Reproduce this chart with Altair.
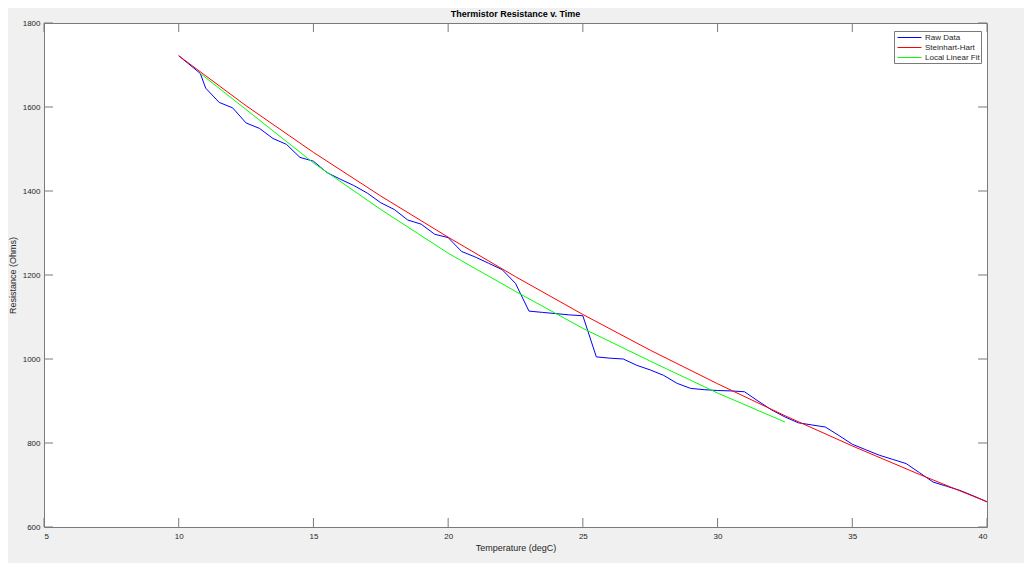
import altair as alt
import pandas as pd

# ---- data ----
raw_t = [10, 10.8, 11, 11.5, 12, 12.5, 13, 13.5, 14, 14.5, 15, 15.5, 16, 16.5, 17, 17.5,
         18, 18.5, 19, 19.5, 20, 20.5, 21, 21.5, 22, 22.5, 23, 23.5, 24, 24.5, 25, 25.5,
         26, 26.5, 27, 27.5, 28, 28.5, 29, 29.5, 30, 30.5, 31, 31.5, 32, 32.5, 33, 33.5,
         34, 34.5, 35, 35.5, 36, 36.5, 37, 37.5, 38, 38.5, 39, 39.5, 40]
raw_r = [1722, 1680, 1645, 1611, 1598, 1562, 1549, 1525, 1511, 1480, 1471, 1444, 1428, 1413, 1395, 1372,
         1356, 1331, 1321, 1297, 1289, 1256, 1243, 1228, 1213, 1180, 1114, 1111, 1108, 1105, 1103, 1005,
         1002, 1000, 985, 974, 961, 942, 930, 927, 925, 924, 922, 900, 879, 862, 848, 843,
         838, 818, 797, 784, 771, 761, 751, 729, 707, 697, 687, 674, 660]

sh_t = [10, 12.5, 15, 17.5, 20, 22.5, 25, 27.5, 30, 32.5, 35, 37.5, 40]
sh_r = [1722, 1603, 1492, 1388, 1290, 1196, 1106, 1021, 941, 865, 793, 725, 660]

llf_t = [10.8, 12.5, 15, 17.5, 20, 22.5, 25, 27.5, 30, 32.5]
llf_r = [1680, 1594, 1467, 1356, 1252, 1161, 1073, 995, 919, 850]

series_names = ["Raw Data", "Steinhart-Hart", "Local Linear Fit"]
series_colors = ["#0000ff", "#ff0000", "#00ff00"]

x_ticks = [5, 10, 15, 20, 25, 30, 35, 40]
y_ticks = [600, 800, 1000, 1200, 1400, 1600, 1800]

# ---- tables ----
rows = []
for name, ts, rs in zip(series_names, [raw_t, sh_t, llf_t], [raw_r, sh_r, llf_r]):
    for i, (t, r) in enumerate(zip(ts, rs)):
        rows.append({"series": name, "t": t, "r": r, "i": i})
df = pd.DataFrame(rows)
xt = pd.DataFrame({"t": x_ticks})
yt = pd.DataFrame({"r": y_ticks})

W, H = 943, 504
FONT = "Liberation Sans"
TXT = "#262626"
AX = "#7a7a7a"

xscale = alt.Scale(domain=[5, 40], nice=False, zero=False)
yscale = alt.Scale(domain=[600, 1800], nice=False, zero=False)

lines = alt.Chart(df).mark_line(strokeWidth=1, clip=True).encode(
    x=alt.X("t:Q", scale=xscale,
            axis=alt.Axis(values=x_ticks, format="d", title="Temperature (degC)", tickSize=0,
                          labelPadding=5, titlePadding=3, domain=False, grid=False)),
    y=alt.Y("r:Q", scale=yscale,
            axis=alt.Axis(values=y_ticks, format="d", title="Resistance (Ohms)", tickSize=0,
                          labelPadding=4, titlePadding=5, domain=False, grid=False)),
    color=alt.Color("series:N",
                    scale=alt.Scale(domain=series_names, range=series_colors),
                    legend=alt.Legend(title=None, orient="none", legendX=850, legendY=8,
                                      symbolType="M-0.6,0H4.2", symbolSize=100,
                                      symbolStrokeWidth=1, labelFontSize=8,
                                      labelOffset=19, rowPadding=0,
                                      fillColor="white", strokeColor=AX, padding=1,
                                      labelFont=FONT, labelColor=TXT)),
    order="i:Q",
)

tick_bottom = alt.Chart(xt).mark_rule(color=AX, strokeWidth=1).encode(
    x=alt.X("t:Q", scale=xscale), y=alt.value(H), y2=alt.value(H - 9))
tick_top = alt.Chart(xt).mark_rule(color=AX, strokeWidth=1).encode(
    x=alt.X("t:Q", scale=xscale), y=alt.value(0), y2=alt.value(9))
tick_left = alt.Chart(yt).mark_rule(color=AX, strokeWidth=1).encode(
    y=alt.Y("r:Q", scale=yscale), x=alt.value(0), x2=alt.value(9))
tick_right = alt.Chart(yt).mark_rule(color=AX, strokeWidth=1).encode(
    y=alt.Y("r:Q", scale=yscale), x=alt.value(W - 9), x2=alt.value(W))

chart = alt.layer(lines, tick_bottom, tick_top, tick_left, tick_right).properties(
    width=W, height=H,
    title=alt.TitleParams("Thermistor Resistance v. Time", fontSize=9, fontWeight="bold",
                          font=FONT, color="#000000", anchor="middle", offset=0),
    autosize=alt.AutoSizeParams(type="none"),
    padding={"left": 36, "top": 15, "right": 37, "bottom": 36},
    background="#f0f0f0",
).configure_view(
    fill="white", stroke=AX, strokeWidth=1
).configure_axis(
    labelFont=FONT, titleFont=FONT, labelFontSize=8, titleFontSize=9,
    labelColor=TXT, titleColor=TXT, titleFontWeight="normal"
)

chart.save("out.html", embed_options={"renderer": "svg", "actions": False})
